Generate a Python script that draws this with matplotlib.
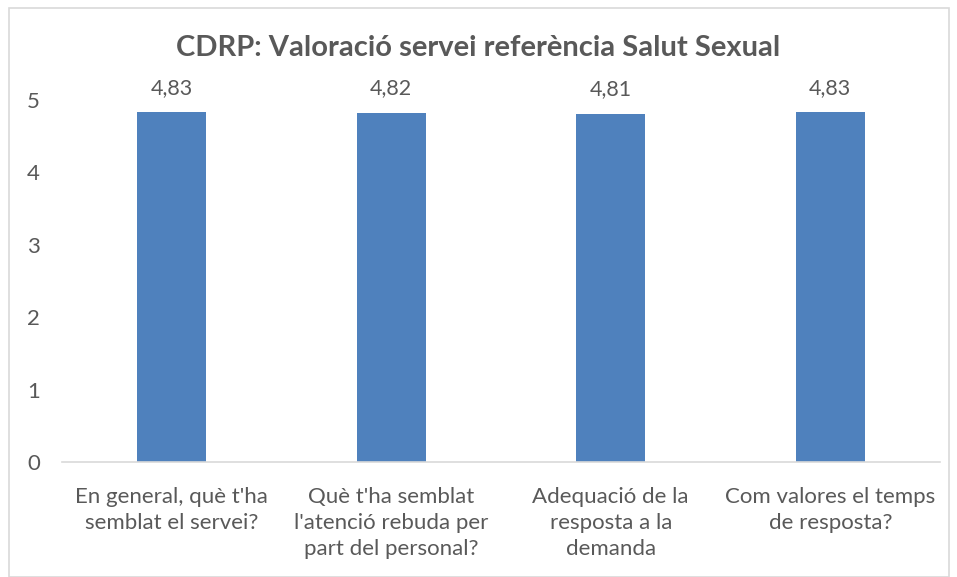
import matplotlib.pyplot as plt
from matplotlib.patches import Rectangle

categories = ["En general, què t'ha\nsemblat el servei?",
              "Què t'ha semblat\nl'atenció rebuda per\npart del personal?",
              "Adequació de la\nresposta a la\ndemanda",
              "Com valores el temps\nde resposta?"]
values = [4.83, 4.82, 4.81, 4.83]
value_labels = ["4,83", "4,82", "4,81", "4,83"]
yticks = [0, 1, 2, 3, 4, 5]

plt.rcParams['font.family'] = ['Lato', 'DejaVu Sans']
gray = '#595959'

fig = plt.figure(figsize=(9.57, 5.77), dpi=100)
ax = fig.add_axes([62 / 957, 115 / 577, 878 / 957, 362 / 577])

x = range(len(values))
ax.bar(x, values, width=0.315, color='#4F81BD')
for xi, v, lab in zip(x, values, value_labels):
    ax.text(xi, v + 0.2, lab, ha='center', va='bottom', fontsize=15.5, color=gray)

ax.set_xlim(-0.5, len(values) - 0.5)
ax.set_ylim(0, 5)
ax.set_yticks(yticks)
ax.set_yticklabels([str(t) for t in yticks])
ax.set_xticks(list(x))
ax.set_xticklabels(categories, linespacing=1.38)
ax.tick_params(axis='both', length=0, labelsize=16, colors=gray)
ax.tick_params(axis='y', pad=16)
ax.tick_params(axis='x', pad=18)

for s in ['top', 'right', 'left']:
    ax.spines[s].set_visible(False)
ax.spines['bottom'].set_color('#D9D9D9')
ax.spines['bottom'].set_linewidth(1.2)

fig.text(0.5, 1 - 48 / 577, "CDRP: Valoració servei referència Salut Sexual",
         ha='center', va='center', fontsize=21, fontweight='bold', color=gray)

fig.patches.append(Rectangle((9 / 957, 0), 940 / 957, 1 - 8 / 577,
                             transform=fig.transFigure, fill=False,
                             edgecolor='#D9D9D9', linewidth=1.2))

fig.savefig('out.png', dpi=100)
